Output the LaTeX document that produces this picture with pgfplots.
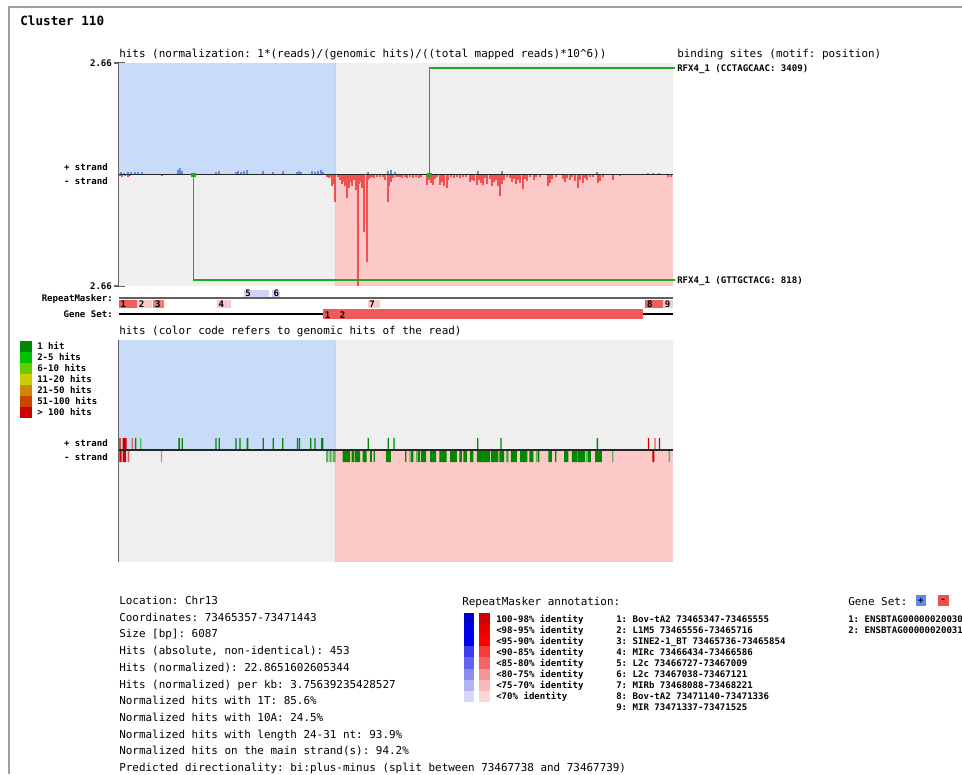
\documentclass[border=0pt]{standalone}
\usepackage{pgfplots}
\pgfplotsset{compat=1.18}
\usepackage{fontspec}
\setmainfont{DejaVu Sans Mono}
\definecolor{bluebg}{RGB}{200,220,250}
\definecolor{graybg}{RGB}{239,239,239}
\definecolor{pinkbg}{RGB}{252,200,200}
\definecolor{barblue}{RGB}{90,140,240}
\definecolor{barred}{RGB}{240,80,80}
\definecolor{sitegreen}{RGB}{30,170,30}
\definecolor{axgray}{RGB}{100,100,100}
\definecolor{hA}{HTML}{008800}
\definecolor{hB}{HTML}{00C000}
\definecolor{hC}{HTML}{66CC00}
\definecolor{hD}{HTML}{CCCC00}
\definecolor{hE}{HTML}{CC8800}
\definecolor{hF}{HTML}{CC4400}
\definecolor{hG}{HTML}{CC0000}
\definecolor{hLG}{RGB}{90,180,90}
\definecolor{hLR}{RGB}{225,90,90}
\definecolor{hOR}{RGB}{225,140,85}
\definecolor{rmA}{RGB}{240,95,95}
\definecolor{rmB}{RGB}{248,202,202}
\definecolor{rmC}{RGB}{242,122,122}
\definecolor{rmP}{RGB}{210,210,248}
\definecolor{gene}{RGB}{240,90,90}
\newcommand\sm{\fontsize{6.8}{8}\selectfont\bfseries}
\newcommand\nm{\fontsize{8.2}{10}\selectfont}
\frenchspacing
\begin{document}
\begin{tikzpicture}
\begin{scope}[x=0.75pt,y=-0.75pt]
\path[use as bounding box] (0,0) rectangle (962,774);
\draw[gray!75, line width=1.5pt] (8.5,774) -- (8.5,7.5) -- (962,7.5);
\tikzset{nt/.style={anchor=base west, inner sep=0, font=\nm},
         st/.style={anchor=base west, inner sep=0, font=\sm},
         se/.style={anchor=base east, inner sep=0, font=\sm}}
\node[anchor=base west, inner sep=0, font=\fontsize{9.5}{11}\selectfont\bfseries] at (20,25.6) {Cluster 110};
\node[nt] at (119,58) {hits (normalization: 1*(reads)/(genomic hits)/((total mapped reads)*10\textasciicircum6))};
\node[nt] at (677,58) {binding sites (motif: position)};
\node[st] at (677,71.3) {RFX4\_1 (CCTAGCAAC: 3409)};
\node[st] at (677,283.3) {RFX4\_1 (GTTGCTACG: 818)};
\node[se] at (108,170.3) {+ strand};
\node[se] at (108,184.3) {- strand};
\node[se] at (113,301.5) {RepeatMasker:};
\node[se] at (113,317.5) {Gene Set:};
\node[nt] at (119,334.5) {hits (color code refers to genomic hits of the read)};
\node[se] at (108,446.5) {+ strand};
\node[se] at (108,460) {- strand};
% hits colour legend
\foreach \c/\t [count=\i from 0] in {hA/1 hit,hB/2-5 hits,hC/6-10 hits,hD/11-20 hits,hE/21-50 hits,hF/51-100 hits,hG/> 100 hits}{
  \fill[\c] (20,{341+11*\i}) rectangle (32,{352+11*\i});
  \node[st] at (37,{349.3+11*\i}) {\t};
}
% info text
\foreach \t [count=\i from 0] in {Location: Chr13,Coordinates: 73465357-73471443,Size [bp]: 6087,{Hits (absolute, non-identical): 453},Hits (normalized): 22.8651602605344,Hits (normalized) per kb: 3.75639235428527,Normalized hits with 1T: 85.6\%,Normalized hits with 10A: 24.5\%,Normalized hits with length 24-31 nt: 93.9\%,Normalized hits on the main strand(s): 94.2\%,Predicted directionality: bi:plus-minus (split between 73467738 and 73467739)}{
  \node[nt] at (119,{604.5+16.7*\i}) {\t};
}
% RepeatMasker annotation legend
\node[nt] at (462,605) {RepeatMasker annotation:};
\foreach \b/\r/\t [count=\i from 0] in {{0,0,210}/{210,0,0}/100-98\% identity,{0,0,225}/{230,0,0}/<98-95\% identity,{0,0,240}/{250,0,0}/<95-90\% identity,{60,60,240}/{245,60,60}/<90-85\% identity,{100,100,240}/{245,100,100}/<85-80\% identity,{140,140,240}/{245,150,150}/<80-75\% identity,{180,180,245}/{248,185,185}/<75-70\% identity,{215,215,250}/{250,215,215}/<70\% identity}{
  \definecolor{tmpb}{RGB}{\b}\definecolor{tmpr}{RGB}{\r}
  \fill[tmpb] (463.5,{613+11.1*\i}) rectangle (474,{624.1+11.1*\i});
  \fill[tmpr] (479,{613+11.1*\i}) rectangle (490,{624.1+11.1*\i});
  \node[st] at (496,{622.3+11*\i}) {\t};
}
\foreach \t [count=\i from 0] in {1: Bov-tA2 73465347-73465555,2: L1M5 73465556-73465716,3: SINE2-1\_BT 73465736-73465854,4: MIRc 73466434-73466586,5: L2c 73466727-73467009,6: L2c 73467038-73467121,7: MIRb 73468088-73468221,8: Bov-tA2 73471140-73471336,9: MIR 73471337-73471525}{
  \node[st] at (616,{622.3+11*\i}) {\t};
}
% Gene set legend
\node[nt] at (848,605) {Gene Set:};
\fill[barblue] (915.5,595) rectangle (926,606);
\node[anchor=center, inner sep=0, font=\sm] at (920.8,600.5) {+};
\fill[barred] (937.5,595) rectangle (948.5,606);
\node[anchor=center, inner sep=0, font=\sm] at (943,600.5) {-};
\node[st] at (848,622.3) {1: ENSBTAG00000020030};
\node[st] at (848,633.3) {2: ENSBTAG00000020031};
\end{scope}

% ================= top axis: normalized hits =================
\begin{axis}[at={(89.25pt,-214.5pt)}, anchor=south west, scale only axis,
  width=415.5pt, height=167.25pt, xmin=0, xmax=6087, ymin=-2.66, ymax=2.66,
  axis lines*=left, x axis line style={draw=none}, y axis line style={axgray, line width=1.3pt},
  xtick=\empty, ytick={-2.66,2.66}, yticklabel={\sm 2.66},
  tick align=center, major tick length=8.25pt, ytick style={axgray, line width=1.1pt},
  yticklabel style={inner sep=1pt}, clip=false]
\addplot[fill=bluebg, draw=none] coordinates {(0,0) (2381,0) (2381,2.66) (0,2.66)} -- cycle;
\addplot[fill=graybg, draw=none] coordinates {(2381,0) (6087,0) (6087,2.66) (2381,2.66)} -- cycle;
\addplot[fill=graybg, draw=none] coordinates {(0,0) (2381,0) (2381,-2.66) (0,-2.66)} -- cycle;
\addplot[fill=pinkbg, draw=none] coordinates {(2381,0) (6087,0) (6087,-2.66) (2381,-2.66)} -- cycle;
\addplot[gray!35, line width=0.8pt] coordinates {(2381,-2.66) (2381,2.66)};
% + strand
\addplot[ycomb, barblue, line width=1.1pt, mark=none] coordinates {
(22,0.048)(55,0.036)(99,0.048)(132,0.048)(176,0.048)(209,0.059)(253,0.048)(648,0.119)(670,0.166)(692,0.095)
(1066,0.071)(1099,0.095)(1286,0.071)(1308,0.095)(1341,0.071)(1374,0.095)(1407,0.119)(1583,0.095)(1693,0.071)(1803,0.095)
(1956,0.071)(1978,0.095)(2000,0.071)(2121,0.095)(2154,0.071)(2187,0.095)(2220,0.119)(2242,0.071)(2736,0.071)(2956,0.095)
(2989,0.119)(3033,0.071)(3945,0.095)(4209,0.095)(5253,0.071)(5814,0.036)(5869,0.036)(5935,0.036)};
% - strand
\addplot[ycomb, barred, line width=1.4pt, mark=none] coordinates {
(11,-0.036)(33,-0.048)(66,-0.036)(99,-0.048)(121,-0.036)(473,-0.024)
(2286,-0.048)(2308,-0.095)(2330,-0.071)(2341,-0.285)(2352,-0.238)(2363,-0.143)(2374,-0.665)
(2407,-0.071)(2429,-0.143)(2451,-0.238)(2462,-0.19)(2484,-0.285)(2506,-0.57)(2528,-0.333)(2539,-0.19)(2561,-0.285)(2583,-0.143)
(2605,-0.38)(2623,-2.66)(2638,-0.238)(2660,-0.19)(2671,-0.333)(2696,-1.378)(2722,-2.09)(2736,-0.143)(2758,-0.095)(2780,-0.071)
(2802,-0.095)(2835,-0.048)(2868,-0.071)(2901,-0.048)(2923,-0.143)(2953,-0.665)(2967,-0.285)(2989,-0.19)(3011,-0.095)(3044,-0.048)
(3066,-0.071)(3088,-0.048)(3110,-0.095)(3143,-0.071)(3165,-0.095)(3198,-0.048)(3231,-0.095)(3264,-0.071)(3297,-0.095)(3319,-0.048)
(3385,-0.261)(3407,-0.143)(3429,-0.214)(3451,-0.261)(3473,-0.119)(3495,-0.071)(3528,-0.261)(3550,-0.19)(3572,-0.285)(3601,-0.333)
(3616,-0.143)(3649,-0.071)(3682,-0.095)(3715,-0.071)(3748,-0.095)(3781,-0.048)(3814,-0.071)(3857,-0.19)(3879,-0.143)(3901,-0.166)
(3934,-0.261)(3956,-0.143)(3978,-0.214)(4000,-0.261)(4022,-0.095)(4044,-0.238)(4077,-0.119)(4099,-0.285)(4121,-0.19)(4143,-0.143)
(4165,-0.285)(4187,-0.523)(4209,-0.238)(4231,-0.143)(4264,-0.071)(4297,-0.095)(4319,-0.19)(4341,-0.119)(4363,-0.238)(4385,-0.143)
(4407,-0.214)(4440,-0.356)(4462,-0.119)(4484,-0.166)(4517,-0.071)(4561,-0.143)(4583,-0.071)(4627,-0.048)(4715,-0.285)(4737,-0.214)
(4759,-0.119)(4803,-0.071)(4880,-0.119)(4902,-0.19)(4924,-0.095)(4956,-0.143)(4978,-0.071)(5011,-0.166)(5044,-0.333)(5066,-0.143)
(5099,-0.214)(5121,-0.095)(5143,-0.143)(5176,-0.071)(5209,-0.048)(5264,-0.214)(5286,-0.166)(5319,-0.048)(5429,-0.143)(5506,-0.024)
(6033,-0.071)(6066,-0.048)};
\addplot[black!85, line width=1.1pt] coordinates {(0,0) (6087,0)};
% binding sites
\addplot[sitegreen, line width=1.1pt] coordinates {(3409,0) (3409,2.54) (6110,2.54)};
\addplot[sitegreen, line width=1.1pt] coordinates {(818,0) (818,-2.52) (6110,-2.52)};
\addplot[only marks, mark=square*, mark size=1.3pt, sitegreen] coordinates {(3409,0) (818,0)};
\end{axis}

% ================= tracks: RepeatMasker and Gene Set =================
\begin{axis}[at={(89.25pt,-240.75pt)}, anchor=south west, scale only axis,
  width=415.5pt, height=24.75pt, xmin=0, xmax=6087, ymin=288, ymax=321, y dir=reverse,
  hide axis, clip=false]
\addplot[gray!75!black, line width=1.1pt] coordinates {(0,298) (6087,298)};
\addplot[black, line width=0.8pt] coordinates {(0,314) (6087,314)};
% RepeatMasker elements (minus strand, below the line)
\addplot[fill=rmA, draw=none] coordinates {(0,299.5) (198,299.5) (198,308.3) (0,308.3)} -- cycle;
\addplot[fill=rmB, draw=none] coordinates {(199,299.5) (359,299.5) (359,308.3) (199,308.3)} -- cycle;
\addplot[fill=rmC, draw=none] coordinates {(379,299.5) (497,299.5) (497,308.3) (379,308.3)} -- cycle;
\addplot[fill=rmB, draw=none] coordinates {(1077,299.5) (1229,299.5) (1229,308.3) (1077,308.3)} -- cycle;
\addplot[fill=rmB, draw=none] coordinates {(2731,299.5) (2864,299.5) (2864,308.3) (2731,308.3)} -- cycle;
\addplot[fill=rmA, draw=none] coordinates {(5783,299.5) (5979,299.5) (5979,308.3) (5783,308.3)} -- cycle;
\addplot[fill=rmB, draw=none] coordinates {(5980,299.5) (6087,299.5) (6087,308.3) (5980,308.3)} -- cycle;
% RepeatMasker elements (plus strand, above the line)
\addplot[fill=rmP, draw=none] coordinates {(1370,289.5) (1652,289.5) (1652,297) (1370,297)} -- cycle;
\addplot[fill=rmP, draw=none] coordinates {(1681,289.5) (1764,289.5) (1764,297) (1681,297)} -- cycle;
% Gene set
\addplot[fill=gene, draw=none] coordinates {(2242,309.3) (5759,309.3) (5759,319.3) (2242,319.3)} -- cycle;
\addplot[fill=gene, draw=none] coordinates {(2407,309.3) (5759,309.3) (5759,319.3) (2407,319.3)} -- cycle;
\foreach \x/\y/\t in {16/307.3/1,215/307.3/2,395/307.3/3,1093/307.3/4,2747/307.3/7,5799/307.3/8,5996/307.3/9,1386/296.8/5,1697/296.8/6,2258/318/1,2423/318/2}{
  \edef\tmp{\noexpand\node[anchor=base west, inner sep=0, font=\noexpand\sm] at (axis cs:\x,\y) {\t};}\tmp
}
\end{axis}

% ================= bottom axis: hits coloured by genomic hits =================
\begin{axis}[at={(89.25pt,-421.5pt)}, anchor=south west, scale only axis,
  width=415.5pt, height=166.5pt, xmin=0, xmax=6087, ymin=-112, ymax=110,
  axis lines*=left, x axis line style={draw=none}, y axis line style={axgray, line width=1.3pt},
  xtick=\empty, ytick=\empty, clip=false]
\addplot[fill=bluebg, draw=none] coordinates {(0,0) (2381,0) (2381,110) (0,110)} -- cycle;
\addplot[fill=graybg, draw=none] coordinates {(2381,0) (6087,0) (6087,110) (2381,110)} -- cycle;
\addplot[fill=graybg, draw=none] coordinates {(0,0) (2381,0) (2381,-112) (0,-112)} -- cycle;
\addplot[fill=pinkbg, draw=none] coordinates {(2381,0) (6087,0) (6087,-112) (2381,-112)} -- cycle;
\addplot[gray!35, line width=0.8pt] coordinates {(2381,-112) (2381,110)};
% + strand
\addplot[const plot mark left, fill=hA, draw=none] coordinates {
(175,12)(190,0)(652,12)(670,0)(688,12)(702,0)(1059,12)(1073,0)(1095,12)(1109,0)(1279,12)(1293,0)(1323,12)(1337,0)
(1403,12)(1421,0)(1578,12)(1592,0)(1688,12)(1702,0)(1791,12)(1806,0)(1953,12)(1967,0)(1975,12)(1989,0)(2099,12)(2113,0)
(2146,12)(2160,0)(2220,12)(2245,0)(2732,12)(2746,0)(2952,12)(2966,0)(3015,12)(3029,0)(3935,12)(3949,0)(4191,12)(4205,0)
(5249,12)(5263,0)} \closedcycle;
\addplot[const plot mark left, fill=hLG, draw=none] coordinates {(231,12)(245,0)} \closedcycle;
\addplot[const plot mark left, fill=hG, draw=none] coordinates {(3,12)(19,0)(41,12)(85,0)(5810,12)(5824,0)(5931,12)(5945,0)} \closedcycle;
\addplot[const plot mark left, fill=hLR, draw=none] coordinates {(140,12)(153,0)(5883,12)(5897,0)} \closedcycle;
% - strand
\addplot[const plot mark left, fill=hG, draw=none] coordinates {(3,-12)(30,0)(41,-12)(77,0)(5861,-12)(5883,0)} \closedcycle;
\addplot[const plot mark left, fill=hLR, draw=none] coordinates {(96,-12)(113,0)} \closedcycle;
\addplot[const plot mark left, fill=hOR, draw=none] coordinates {(461,-12)(475,0)} \closedcycle;
\addplot[const plot mark left, fill=hLG, draw=none] coordinates {(2275,-12)(2300,0)(2311,-12)(2337,0)(2348,-12)(2381,0)
(3190,-12)(3205,0)(3264,-12)(3280,0)(4253,-12)(4265,0)(4583,-12)(4595,0)(5132,-12)(5145,0)(5418,-12)(5432,0)(6040,-12)(6054,0)} \closedcycle;
\addplot[const plot mark left, fill=hA, draw=none] coordinates {
(2458,-12)(2539,0)(2557,-12)(2586,0)(2594,-12)(2649,0)(2678,-12)(2722,0)(2759,-12)(2777,0)(2798,-12)(2812,0)(2934,-12)(2986,0)
(3143,-12)(3157,0)(3210,-12)(3234,0)(3285,-12)(3308,0)(3319,-12)(3374,0)(3418,-12)(3484,0)(3520,-12)(3601,0)(3638,-12)(3711,0)
(3740,-12)(3766,0)(3784,-12)(3821,0)(3857,-12)(3894,0)(3931,-12)(4077,0)(4088,-12)(4168,0)(4179,-12)(4231,0)(4268,-12)(4278,0)
(4305,-12)(4371,0)(4407,-12)(4487,0)(4509,-12)(4553,0)(4600,-12)(4619,0)(4718,-12)(4755,0)(4792,-12)(4806,0)(4891,-12)(4938,0)
(4975,-12)(5030,0)(5037,-12)(5121,0)(5150,-12)(5184,0)(5231,-12)(5305,0)} \closedcycle;
\addplot[black!85, line width=1.1pt] coordinates {(0,0) (6087,0)};
\end{axis}
\end{tikzpicture}
\end{document}
